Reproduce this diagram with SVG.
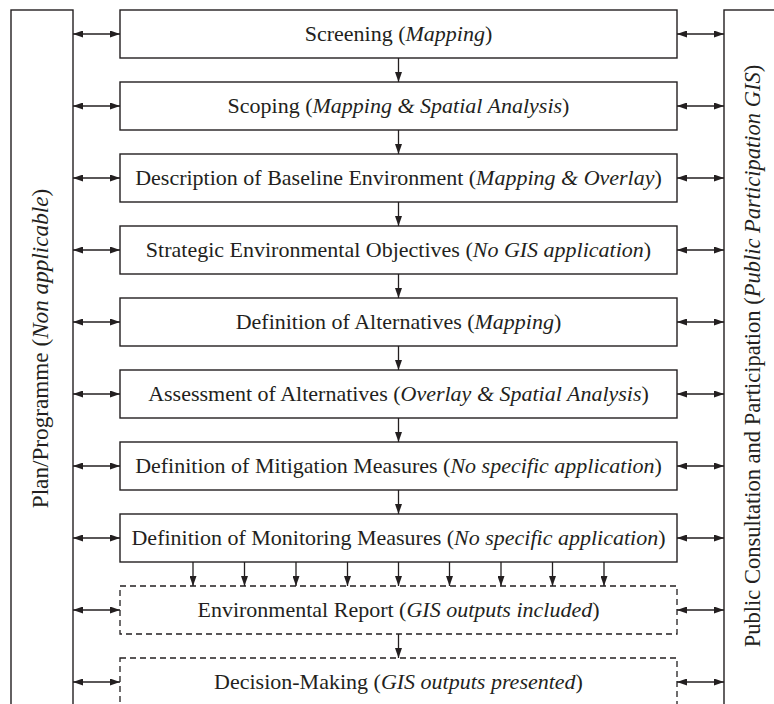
<svg xmlns="http://www.w3.org/2000/svg" width="774" height="704" viewBox="0 0 774 704">
<style>
.box{fill:#fff;stroke:#231f20;stroke-width:1.4}
.dash{fill:#fff;stroke:#231f20;stroke-width:1.3;stroke-dasharray:6,4}
.t{font-family:"Liberation Serif","Times New Roman",serif;font-size:22px;fill:#231f20;text-anchor:middle}
.s{font-size:23.2px}
.r{font-size:22.5px}
.c line{stroke:#231f20;stroke-width:1.3}
.d{marker-end:url(#ah)}
.b{marker-start:url(#ah);marker-end:url(#ah)}
</style>
<defs>
<marker id="ah" viewBox="0 0 10 7" refX="10" refY="3.5" markerWidth="11" markerHeight="7" markerUnits="userSpaceOnUse" orient="auto-start-reverse">
<path d="M0,0 L10,3.5 L0,7 Z" fill="#231f20"/>
</marker>
</defs>
<rect width="774" height="704" fill="#fff"/>
<g id="plan"><rect class="box" x="11" y="10" width="62" height="710"/>
<text class="t s" transform="translate(48,348.5) rotate(-90)">Plan/Programme (<tspan font-style="italic">Non applicable</tspan>)</text></g>
<g id="public"><rect class="box" x="724" y="10" width="70" height="710"/>
<text class="t r" transform="translate(760,356) rotate(-90)">Public Consultation and Participation (<tspan font-style="italic">Public Participation GIS</tspan>)</text></g>
<g id="n1"><rect class="box" x="120" y="10" width="557" height="48"/><text class="t" x="398.5" y="41">Screening (<tspan font-style="italic">Mapping</tspan>)</text></g>
<g id="n2"><rect class="box" x="120" y="82" width="557" height="48"/><text class="t" x="398.5" y="113">Scoping (<tspan font-style="italic">Mapping &amp; Spatial Analysis</tspan>)</text></g>
<g id="n3"><rect class="box" x="120" y="154" width="557" height="48"/><text class="t" x="398.5" y="185">Description of Baseline Environment (<tspan font-style="italic">Mapping &amp; Overlay</tspan>)</text></g>
<g id="n4"><rect class="box" x="120" y="226" width="557" height="48"/><text class="t" x="398.5" y="257">Strategic Environmental Objectives (<tspan font-style="italic">No GIS application</tspan>)</text></g>
<g id="n5"><rect class="box" x="120" y="298" width="557" height="48"/><text class="t" x="398.5" y="329">Definition of Alternatives (<tspan font-style="italic">Mapping</tspan>)</text></g>
<g id="n6"><rect class="box" x="120" y="370" width="557" height="48"/><text class="t" x="398.5" y="401">Assessment of Alternatives (<tspan font-style="italic">Overlay &amp; Spatial Analysis</tspan>)</text></g>
<g id="n7"><rect class="box" x="120" y="442" width="557" height="48"/><text class="t" x="398.5" y="473">Definition of Mitigation Measures (<tspan font-style="italic">No specific application</tspan>)</text></g>
<g id="n8"><rect class="box" x="120" y="514" width="557" height="48"/><text class="t" x="398.5" y="545">Definition of Monitoring Measures (<tspan font-style="italic">No specific application</tspan>)</text></g>
<g id="n9"><rect class="dash" x="120" y="586" width="557" height="48"/><text class="t" x="398.5" y="617">Environmental Report (<tspan font-style="italic">GIS outputs included</tspan>)</text></g>
<g id="n10"><rect class="dash" x="120" y="658" width="557" height="60"/><text class="t" x="398.5" y="689">Decision-Making (<tspan font-style="italic">GIS outputs presented</tspan>)</text></g>
<g id="connectors" class="c">
<line class="d" x1="398.5" y1="58" x2="398.5" y2="82"/>
<line class="d" x1="398.5" y1="130" x2="398.5" y2="154"/>
<line class="d" x1="398.5" y1="202" x2="398.5" y2="226"/>
<line class="d" x1="398.5" y1="274" x2="398.5" y2="298"/>
<line class="d" x1="398.5" y1="346" x2="398.5" y2="370"/>
<line class="d" x1="398.5" y1="418" x2="398.5" y2="442"/>
<line class="d" x1="398.5" y1="490" x2="398.5" y2="514"/>
<line class="d" x1="398.5" y1="634" x2="398.5" y2="658"/>
<line class="d" x1="193" y1="562" x2="193" y2="586"/>
<line class="d" x1="244.5" y1="562" x2="244.5" y2="586"/>
<line class="d" x1="296" y1="562" x2="296" y2="586"/>
<line class="d" x1="347.5" y1="562" x2="347.5" y2="586"/>
<line class="d" x1="398.5" y1="562" x2="398.5" y2="586"/>
<line class="d" x1="449.5" y1="562" x2="449.5" y2="586"/>
<line class="d" x1="501" y1="562" x2="501" y2="586"/>
<line class="d" x1="552.5" y1="562" x2="552.5" y2="586"/>
<line class="d" x1="604" y1="562" x2="604" y2="586"/>
<line class="b" x1="73" y1="34" x2="120" y2="34"/><line class="b" x1="677" y1="34" x2="724" y2="34"/>
<line class="b" x1="73" y1="106" x2="120" y2="106"/><line class="b" x1="677" y1="106" x2="724" y2="106"/>
<line class="b" x1="73" y1="178" x2="120" y2="178"/><line class="b" x1="677" y1="178" x2="724" y2="178"/>
<line class="b" x1="73" y1="250" x2="120" y2="250"/><line class="b" x1="677" y1="250" x2="724" y2="250"/>
<line class="b" x1="73" y1="322" x2="120" y2="322"/><line class="b" x1="677" y1="322" x2="724" y2="322"/>
<line class="b" x1="73" y1="394" x2="120" y2="394"/><line class="b" x1="677" y1="394" x2="724" y2="394"/>
<line class="b" x1="73" y1="466" x2="120" y2="466"/><line class="b" x1="677" y1="466" x2="724" y2="466"/>
<line class="b" x1="73" y1="538" x2="120" y2="538"/><line class="b" x1="677" y1="538" x2="724" y2="538"/>
<line class="b" x1="73" y1="610" x2="120" y2="610"/><line class="b" x1="677" y1="610" x2="724" y2="610"/>
<line class="b" x1="73" y1="682" x2="120" y2="682"/><line class="b" x1="677" y1="682" x2="724" y2="682"/>
</g>
</svg>
